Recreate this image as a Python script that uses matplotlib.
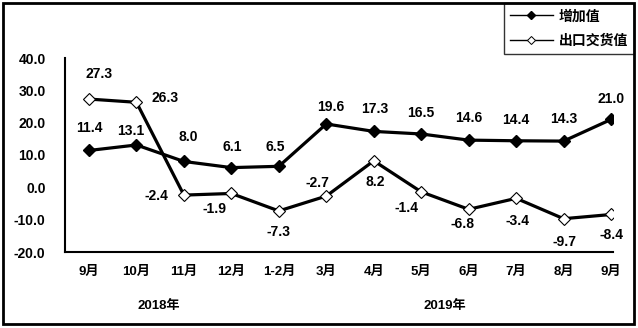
import matplotlib
matplotlib.use("Agg")
import matplotlib.pyplot as plt
from matplotlib.lines import Line2D
from matplotlib.patches import Rectangle

plt.rcParams['font.family'] = ['Liberation Sans', 'Noto Sans CJK SC', 'DejaVu Sans']
plt.rcParams['font.weight'] = 'bold'

months = ['9月', '10月', '11月', '12月', '1-2月', '3月', '4月', '5月', '6月', '7月', '8月', '9月']
added_value = [11.4, 13.1, 8.0, 6.1, 6.5, 19.6, 17.3, 16.5, 14.6, 14.4, 14.3, 21.0]
export_value = [27.3, 26.3, -2.4, -1.9, -7.3, -2.7, 8.2, -1.4, -6.8, -3.4, -9.7, -8.4]
series_names = ['增加值', '出口交货值']
years = ['2018年', '2019年']
y_ticks = [-20, -10, 0, 10, 20, 30, 40]

# label offsets in pixels (dx, dy) relative to each marker
added_offsets = [(0, 22), (-6, 14), (4, 24), (1, 21), (-4, 19), (4, 17),
                 (1, 22), (0, 21), (0, 22), (0, 21), (0, 22), (0, 20)]
export_offsets = [(10, 25), (29, 4), (-27, -1), (-17, -16), (0, -21), (-9, 13),
                  (1, -21), (-15, -16), (-6, -15), (1, -23), (1, -23), (0, -21)]

W, H = 638, 328
fig = plt.figure(figsize=(W / 100, H / 100), dpi=100)
ax = fig.add_axes([65 / W, 76 / H, (613 - 65) / W, (252 - 58) / H])

x = list(range(len(months)))
ax.plot(x, added_value, color='black', lw=2.3, marker='D', ms=6.5,
        mfc='black', mec='black', zorder=3)
ax.plot(x, export_value, color='black', lw=2.3, marker='D', ms=6.5,
        mfc='white', mec='black', mew=0.8, zorder=3)

px = 0.72  # points per pixel at 100 dpi
for xi, v, (dx, dy) in zip(x, added_value, added_offsets):
    ax.annotate(f'{v:.1f}', (xi, v), xytext=(dx * px, dy * px), textcoords='offset points',
                ha='center', va='center', fontsize=10, fontweight='bold')
for xi, v, (dx, dy) in zip(x, export_value, export_offsets):
    ax.annotate(f'{v:.1f}', (xi, v), xytext=(dx * px, dy * px), textcoords='offset points',
                ha='center', va='center', fontsize=10, fontweight='bold')

ax.set_xlim(-0.505, 11.04)
ax.set_ylim(-20, 40)
ax.set_yticks(y_ticks)
ax.set_yticklabels([f'{t:.1f}' for t in y_ticks], fontsize=10, fontweight='bold')
ax.set_xticks(x)
ax.set_xticklabels(months, fontsize=9.5, fontweight='bold')
ax.tick_params(axis='y', length=0, pad=14)
ax.tick_params(axis='x', length=0, pad=10)
for s in ['top', 'right']:
    ax.spines[s].set_visible(False)
for s in ['left', 'bottom']:
    ax.spines[s].set_linewidth(1.5)

fig.text(159 / W, 1 - 306 / H, years[0], ha='center', va='center', fontsize=9.5, fontweight='bold')
fig.text(445 / W, 1 - 306 / H, years[1], ha='center', va='center', fontsize=9.5, fontweight='bold')

handles = [
    Line2D([], [], color='black', lw=1, marker='D', ms=4, mfc='black', mec='black'),
    Line2D([], [], color='black', lw=1, marker='D', ms=4, mfc='white', mec='black', mew=0.7),
]
leg = ax.legend(handles, series_names, loc='upper right',
                bbox_to_anchor=(634 / W, 1 - 3 / H), bbox_transform=fig.transFigure,
                frameon=True, fancybox=False, edgecolor='black', borderaxespad=0,
                prop={'size': 10, 'weight': 'bold'}, handlelength=3.1,
                handletextpad=0.4, labelspacing=0.75, borderpad=0.45)
leg.get_frame().set_linewidth(1)

fig.add_artist(Rectangle((3 / W, 4 / H), 631 / W, 321 / H, transform=fig.transFigure,
                         fill=False, edgecolor='black', lw=2))

fig.savefig('out.png', dpi=100)
